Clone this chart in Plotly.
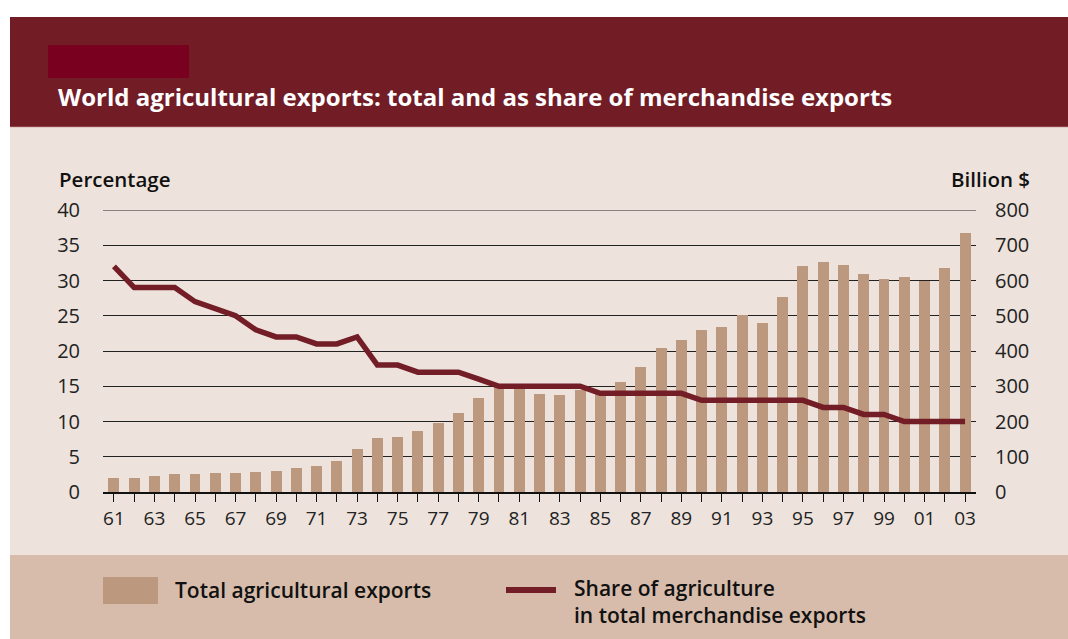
import plotly.graph_objects as go

# ---- data ----
years = list(range(1961, 2004))
exports_bn = [39.5, 39.5, 45, 51, 51, 54, 54, 56, 59,
              68, 73, 87, 123, 153, 156, 173, 196, 224, 268,
              299, 300, 277, 274, 288, 280, 311, 355, 408, 430,
              461, 467, 503, 480, 553, 642, 653, 644, 619, 603,
              611, 600, 636, 734]
share_pct = [32, 29, 29, 29, 27, 26, 25, 23, 22,
             22, 21, 21, 22, 18, 18, 17, 17, 17, 16,
             15, 15, 15, 15, 15, 14, 14, 14, 14, 14,
             13, 13, 13, 13, 13, 13, 12, 12, 11, 11,
             10, 10, 10, 10]
tick_labels = [f"{y % 100:02d}" if (y - 1961) % 2 == 0 else "" for y in years]
left_ticks = [0, 5, 10, 15, 20, 25, 30, 35, 40]
right_ticks = [0, 100, 200, 300, 400, 500, 600, 700, 800]

title = "World agricultural exports: total and as share of merchandise exports"
bar_name = "Total agricultural exports"
line_name = "Share of agriculture<br>in total merchandise exports"

# ---- geometry ----
W, H = 1068, 639
PL, PR, PT, PB = 103, 976, 210, 492


def px(x):
    return (x - PL) / (PR - PL)


def py(y):
    return (PB - y) / (PB - PT)


HEADER = "#721c26"
RED = "#7a0020"
PANEL = "#ede3dc"
BAND = "#d7bcab"
BAR = "#bb987e"
LINE = "#731d27"
GRID = "#222222"
FONT = "Open Sans"

fig = go.Figure()
fig.add_trace(go.Bar(x=years, y=exports_bn, width=0.54, marker=dict(color=BAR, line=dict(width=0)),
                     yaxis="y", name="Total agricultural exports", showlegend=False))
fig.add_trace(go.Scatter(x=years, y=share_pct, mode="lines", line=dict(color=LINE, width=5.5),
                         yaxis="y2", name="Share", showlegend=False))

shapes = [
    dict(type="rect", xref="paper", yref="paper", x0=px(10), x1=px(1068), y0=py(127), y1=py(17),
         fillcolor=HEADER, line=dict(width=0), layer="below"),
    dict(type="line", xref="paper", yref="paper", x0=px(10), x1=px(1068), y0=py(127), y1=py(127),
         line=dict(color="#a9686b", width=1), layer="below"),
    dict(type="rect", xref="paper", yref="paper", x0=px(48), x1=px(189), y0=py(78), y1=py(45),
         fillcolor=RED, line=dict(width=0), layer="below"),
    dict(type="rect", xref="paper", yref="paper", x0=px(10), x1=px(1068), y0=py(555), y1=py(127.5),
         fillcolor=PANEL, line=dict(width=0), layer="below"),
    dict(type="rect", xref="paper", yref="paper", x0=px(10), x1=px(1068), y0=py(639), y1=py(555),
         fillcolor=BAND, line=dict(width=0), layer="below"),
    # top gridline (at the edge of the range)
    dict(type="line", xref="paper", yref="y", x0=0, x1=1, y0=800, y1=800,
         line=dict(color=GRID, width=1.1), layer="below"),
    # legend swatches
    dict(type="rect", xref="paper", yref="paper", x0=px(103), x1=px(158), y0=py(604), y1=py(577),
         fillcolor=BAR, line=dict(width=0)),
    dict(type="line", xref="paper", yref="paper", x0=px(506), x1=px(556), y0=py(590), y1=py(590),
         line=dict(color=LINE, width=6)),
]

annotations = [
    dict(text=title, xref="paper", yref="paper", x=px(56), y=py(97), xanchor="left", yanchor="middle",
         showarrow=False, font=dict(family=FONT, size=24, color="white", weight=700)),
    dict(text="Percentage", xref="paper", yref="paper", x=px(57), y=py(179), xanchor="left",
         yanchor="middle", showarrow=False, font=dict(family=FONT, size=20.5, color="#111", weight=600)),
    dict(text="Billion $", xref="paper", yref="paper", x=px(1032), y=py(179), xanchor="right",
         yanchor="middle", showarrow=False, font=dict(family=FONT, size=20.5, color="#111", weight=600)),
    dict(text=bar_name, xref="paper", yref="paper", x=px(173), y=py(589.5), xanchor="left",
         yanchor="middle", showarrow=False, font=dict(family=FONT, size=21, color="#111", weight=600)),
    dict(text=line_name, xref="paper", yref="paper", x=px(572), y=py(601.5), xanchor="left",
         yanchor="middle", align="left", showarrow=False,
         font=dict(family=FONT, size=21, color="#111", weight=600)),
]

fig.update_layout(
    width=W, height=H,
    margin=dict(l=PL, r=W - PR, t=PT, b=H - PB, pad=0),
    paper_bgcolor="white", plot_bgcolor="rgba(0,0,0,0)",
    font=dict(family=FONT, size=19, color="#222"),
    showlegend=False, bargap=0,
    shapes=shapes, annotations=annotations,
    xaxis=dict(range=[1960.46, 2003.54], tickmode="array", tickvals=years, ticktext=tick_labels,
               ticks="outside", ticklen=8, tickcolor="#111", tickwidth=1.3,
               showline=True, linecolor="#111", linewidth=1.5, showgrid=False, zeroline=False,
               tickfont=dict(family=FONT, size=19, color="#222"), fixedrange=True),
    yaxis=dict(range=[0, 800], tickmode="array", tickvals=right_ticks, side="right",
               showgrid=True, gridcolor=GRID, gridwidth=1.1, zeroline=False,
               ticks="outside", ticklen=14, tickcolor="rgba(0,0,0,0)",
               tickfont=dict(family=FONT, size=20, color="#222")),
    yaxis2=dict(range=[0, 40], tickmode="array", tickvals=left_ticks, side="left", overlaying="y",
                showgrid=False, zeroline=False,
                ticks="outside", ticklen=18, tickcolor="rgba(0,0,0,0)",
                tickfont=dict(family=FONT, size=20, color="#222")),
)

fig.write_html("out.html", config={"displayModeBar": False},
               post_script="document.body.style.margin='0';")
